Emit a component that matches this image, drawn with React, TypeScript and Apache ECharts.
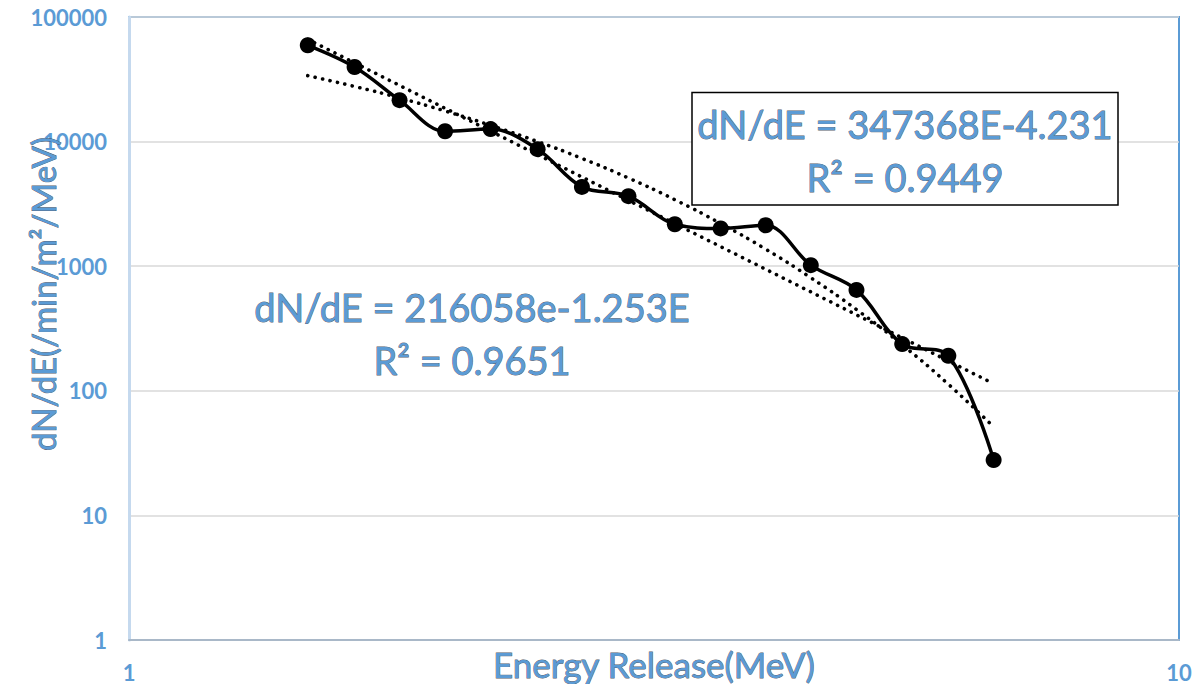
import React, { useEffect, useRef } from "react";
import * as echarts from "echarts";

// Measured data (Energy release in MeV, dN/dE)
const energy: number[] = [1.48, 1.64, 1.81, 2.0, 2.21, 2.45, 2.7, 2.99, 3.31, 3.66, 4.04, 4.46, 4.93, 5.45, 6.03, 6.66];
const flux: number[] = [59300, 39700, 21500, 12100, 12600, 8700, 4330, 3650, 2170, 2010, 2130, 1020, 645, 237, 191, 27.8];

// Exponential trendline values
const expTrend: number[] = [33800, 27700, 22400, 17600, 13500, 10000, 7330, 5100, 3420, 2200, 1370, 808, 449, 234, 113, 51.3];

// Power trendline end points (straight on log-log)
const powerX: number[] = [1.48, 6.66];
const powerY: number[] = [66200, 114];

const yTicks: number[] = [1, 10, 100, 1000, 10000, 100000];

const expEquation = "dN/dE = 216058e-1.253E";
const expR2 = "R² = 0.9651";
const powEquation = "dN/dE = 347368E-4.231";
const powR2 = "R² = 0.9449";
const xTitle = "Energy Release(MeV)";
const yTitle = "dN/dE(/min/m²/MeV)";

const BLUE = "#5B9BD5";
const FONT = "Lato";

export default function App() {
  const ref = useRef<HTMLDivElement>(null);

  useEffect(() => {
    document.body.style.margin = "0";
    if (!ref.current) return;
    const chart = echarts.init(ref.current, undefined, { renderer: "svg" });

    const dotted = {
      type: [0.1, 7.5] as any,
      cap: "round" as any,
      width: 3.6,
      color: "#000",
    };

    const annText = {
      fill: BLUE,
      stroke: "rgba(55,65,80,0.85)",
      lineWidth: 0.9,
      fontFamily: FONT,
      fontSize: 38,
      align: "center",
      verticalAlign: "middle",
    };

    chart.setOption({
      animation: false,
      backgroundColor: "#fff",
      grid: {
        left: 129,
        right: 22,
        top: 17,
        bottom: 44,
        show: true,
        borderColor: BLUE,
        borderWidth: 2,
        backgroundColor: "transparent",
      },
      xAxis: {
        type: "log",
        logBase: 10,
        min: 1,
        max: 10,
        axisLine: { show: true, lineStyle: { color: "#A9B8C8", width: 2 } },
        axisTick: { show: false },
        splitLine: { show: false },
        axisLabel: {
          color: BLUE,
          fontFamily: FONT,
          fontWeight: "bold",
          fontSize: 22,
          margin: 21,
          formatter: (v: number) => String(Math.round(v)),
        },
      },
      yAxis: {
        type: "log",
        logBase: 10,
        min: yTicks[0],
        max: yTicks[yTicks.length - 1],
        axisLine: { show: true, lineStyle: { color: "#C5D9EE", width: 3 } },
        axisTick: { show: false },
        splitLine: { show: true, lineStyle: { color: "#D9D9D9", width: 1.5 } },
        axisLabel: {
          color: BLUE,
          fontFamily: FONT,
          fontWeight: "bold",
          fontSize: 22,
          margin: 22,
          formatter: (v: number) => String(Math.round(v)),
        },
      },
      series: [
        {
          type: "line",
          data: energy.map((e, i) => [e, flux[i]]),
          smooth: 0.35,
          symbol: "circle",
          symbolSize: 16,
          itemStyle: { color: "#000" },
          lineStyle: { color: "#000", width: 3.5 },
          z: 2,
        },
        {
          type: "line",
          data: powerX.map((e, i) => [e, powerY[i]]),
          symbol: "none",
          lineStyle: dotted,
          z: 3,
        },
        {
          type: "line",
          data: energy.map((e, i) => [e, expTrend[i]]),
          smooth: true,
          symbol: "none",
          lineStyle: dotted,
          z: 3,
        },
      ],
      graphic: [
        {
          type: "rect",
          shape: { x: 692, y: 92.5, width: 426, height: 112.5 },
          style: { fill: "#fff", stroke: "#000", lineWidth: 1.5 },
          z: 10,
        },
        {
          type: "text",
          x: 905,
          y: 124,
          style: { ...annText, text: powEquation },
          z: 11,
        },
        {
          type: "text",
          x: 905,
          y: 177,
          style: { ...annText, text: powR2 },
          z: 11,
        },
        {
          type: "text",
          x: 472,
          y: 307,
          style: { ...annText, text: expEquation },
          z: 11,
        },
        {
          type: "text",
          x: 472,
          y: 360,
          style: { ...annText, text: expR2 },
          z: 11,
        },
        {
          type: "text",
          x: 654,
          y: 664,
          style: { ...annText, fontSize: 35, text: xTitle },
          z: 11,
        },
        {
          type: "text",
          x: 43,
          y: 294,
          rotation: Math.PI / 2,
          style: { ...annText, fontSize: 33, text: yTitle },
          z: 11,
        },
      ],
    });

    return () => chart.dispose();
  }, []);

  return <div ref={ref} style={{ width: 1201, height: 684 }} />;
}
